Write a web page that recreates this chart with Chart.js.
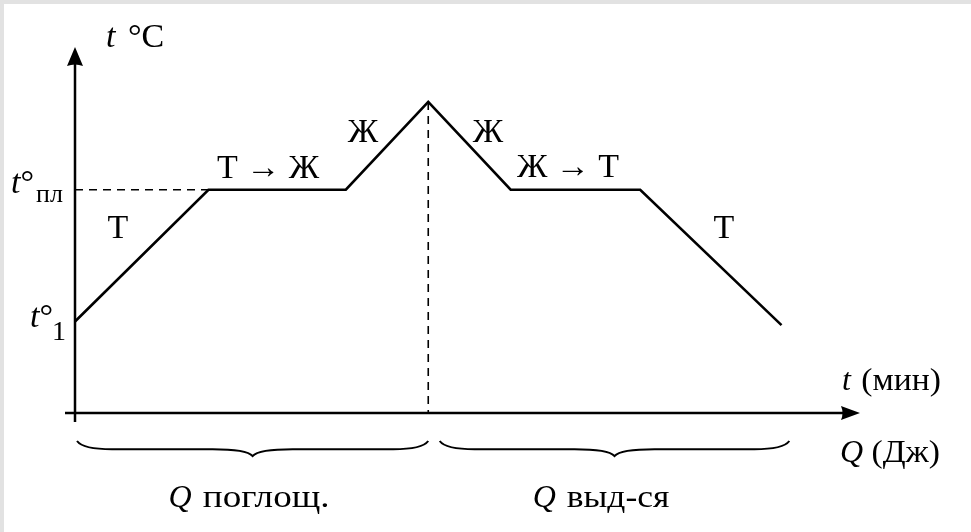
<!DOCTYPE html>
<html>
<head>
<meta charset="utf-8">
<script src="https://cdn.jsdelivr.net/npm/chart.js@4"></script>
<style>
  html, body { margin: 0; padding: 0; background: #fff; }
  #wrap { width: 971px; height: 532px; }
</style>
</head>
<body>
<div id="wrap"><canvas id="grafico"></canvas></div>
<script>
'use strict';
// данные кривой нагревания / охлаждения (условные единицы)
const timeVals = [0, 1.7, 3.45, 4.5, 5.55, 7.2, 9.0];
const tempVals = [2.5, 6.1, 6.1, 8.5, 6.1, 6.1, 2.4];
const phaseLabels = ['Т', 'Т → Ж', 'Ж', 'Ж', 'Ж → Т', 'Т'];
const meltTemp = 6.1;
const peakTime = 4.5;
const peakTemp = 8.5;
const braceSpans = [[0, 4.5], [4.62, 9.1]];
const braceLabels = ['поглощ.', 'выд-ся'];

const serif = '"Liberation Serif", "DejaVu Serif", serif';

// parts: [текст, шрифт, dx, растяжение по горизонтали]
function runText(ctx, x, y, parts) {
    let cx = x;
    parts.forEach(([txt, font, dx, sx]) => {
        sx = sx || 1;
        cx += dx || 0;
        ctx.font = font;
        ctx.save();
        ctx.translate(cx, y);
        ctx.scale(sx, 1);
        ctx.fillText(txt, 0, 0);
        ctx.restore();
        cx += ctx.measureText(txt).width * sx;
    });
    return cx - x;
}

function widthOf(ctx, parts) {
    let w = 0;
    parts.forEach(([txt, font, dx, sx]) => {
        ctx.font = font;
        w += (dx || 0) + ctx.measureText(txt).width * (sx || 1);
    });
    return w;
}

function brace(ctx, x1, x2, yTop, depth) {
    const mid = (x1 + x2) / 2;
    const yFlat = yTop + depth * 0.55;
    const yTip = yTop + depth;
    ctx.beginPath();
    ctx.moveTo(x1, yTop);
    ctx.quadraticCurveTo(x1 + 6, yFlat, x1 + 35, yFlat);
    ctx.lineTo(mid - 40, yFlat);
    ctx.quadraticCurveTo(mid - 6, yFlat, mid, yTip);
    ctx.quadraticCurveTo(mid + 6, yFlat, mid + 40, yFlat);
    ctx.lineTo(x2 - 35, yFlat);
    ctx.quadraticCurveTo(x2 - 6, yFlat, x2, yTop);
    ctx.stroke();
}

const fonPlugin = {
    id: 'fon',
    beforeDraw(chart) {
        const ctx = chart.ctx;
        ctx.save();
        ctx.fillStyle = '#ffffff';
        ctx.fillRect(0, 0, chart.width, chart.height);
        ctx.fillStyle = '#e2e2e2';
        ctx.fillRect(0, 0, 4, chart.height);
        ctx.fillRect(0, 0, chart.width, 4);
        ctx.restore();
    }
};

const eixosPlugin = {
    id: 'eixos',
    afterDatasetsDraw(chart) {
        const ctx = chart.ctx;
        const xs = chart.scales.x, ys = chart.scales.y;
        const x0 = xs.getPixelForValue(0);
        const y0 = ys.getPixelForValue(0);
        const xEnd = xs.right, yEnd = ys.top;
        ctx.save();
        ctx.strokeStyle = '#000';
        ctx.fillStyle = '#000';
        ctx.lineWidth = 2.5;
        // оси
        ctx.beginPath();
        ctx.moveTo(x0, y0 + 9);
        ctx.lineTo(x0, yEnd + 14);
        ctx.moveTo(x0 - 10, y0);
        ctx.lineTo(xEnd - 14, y0);
        ctx.stroke();
        // стрелки
        ctx.beginPath();
        ctx.moveTo(x0, yEnd);
        ctx.lineTo(x0 + 8, yEnd + 19);
        ctx.quadraticCurveTo(x0, yEnd + 16, x0 - 8, yEnd + 19);
        ctx.closePath();
        ctx.fill();
        ctx.beginPath();
        ctx.moveTo(xEnd, y0);
        ctx.lineTo(xEnd - 19, y0 - 7);
        ctx.quadraticCurveTo(xEnd - 16, y0, xEnd - 19, y0 + 7);
        ctx.closePath();
        ctx.fill();

        // фигурные скобки
        ctx.lineWidth = 2;
        braceSpans.forEach(([a, b]) => {
            brace(ctx, xs.getPixelForValue(a) + 2, xs.getPixelForValue(b), y0 + 28, 15);
        });

        // подписи
        ctx.textBaseline = 'alphabetic';
        ctx.textAlign = 'left';
        const big = '34px ' + serif;
        const bigIt = 'italic 34px ' + serif;
        const mid = '32px ' + serif;
        const midIt = 'italic 32px ' + serif;

        // t °C
        runText(ctx, x0 + 31, 47, [['t', bigIt], [' °C', big, 4]]);
        // t (мин), Q (Дж)
        runText(ctx, 842, 390, [['t', midIt], [' (мин)', mid, 2, 1.05]]);
        runText(ctx, 840, 462, [['Q', midIt], [' (Дж)', mid, 0, 1.05]]);

        // t°пл и t°1
        const yMelt = ys.getPixelForValue(meltTemp);
        const yStart = ys.getPixelForValue(tempVals[0]);
        runText(ctx, 11, yMelt + 3, [['t', bigIt], ['°', big]]);
        runText(ctx, 36, yMelt + 12, [['пл', '26px ' + serif]]);
        runText(ctx, 30, yStart + 5, [['t', bigIt], ['°', big]]);
        runText(ctx, 52, yStart + 18, [['1', '28px ' + serif]]);

        // подписи фаз
        const phasePos = [[118, 238], [268, 178], [363, 142], [488, 142], [568, 177], [724, 238]];
        phaseLabels.forEach((lbl, i) => {
            const parts = [[lbl, big]];
            runText(ctx, phasePos[i][0] - widthOf(ctx, parts) / 2, phasePos[i][1], parts);
        });

        // Q поглощ. / Q выд-ся
        const centers = [249, 601];
        const stretch = [1.16, 1.11];
        braceLabels.forEach((lbl, i) => {
            const parts = [['Q', midIt], [' ' + lbl, mid, 2, stretch[i]]];
            runText(ctx, centers[i] - widthOf(ctx, parts) / 2, 507, parts);
        });
        ctx.restore();
    }
};

const ctx = document.getElementById('grafico').getContext('2d');
const curva = timeVals.map((t, i) => ({x: t, y: tempVals[i]}));

const myChart = new Chart(ctx, {
    type: 'line',
    plugins: [fonPlugin, eixosPlugin],
    data: {
        datasets: [
            {
                data: curva,
                borderColor: '#000',
                borderWidth: 2.6,
                pointRadius: 0,
                tension: 0,
                clip: false
            },
            {
                data: [{x: 0, y: meltTemp}, {x: timeVals[1], y: meltTemp}],
                borderColor: '#000',
                borderWidth: 1.6,
                borderDash: [8, 6],
                pointRadius: 0,
                clip: false
            },
            {
                data: [{x: peakTime, y: peakTemp}, {x: peakTime, y: 0}],
                borderColor: '#000',
                borderWidth: 1.6,
                borderDash: [8, 6],
                pointRadius: 0,
                clip: false
            }
        ]
    },
    options: {
        responsive: true,
        maintainAspectRatio: false,
        animation: false,
        layout: {
            padding: { left: 75, right: 111, top: 47, bottom: 119 }
        },
        scales: {
            x: { type: 'linear', min: 0, max: 10, display: false },
            y: { type: 'linear', min: 0, max: 10, display: false }
        },
        plugins: {
            legend: { display: false },
            tooltip: { enabled: false }
        }
    }
});
</script>
</body>
</html>
